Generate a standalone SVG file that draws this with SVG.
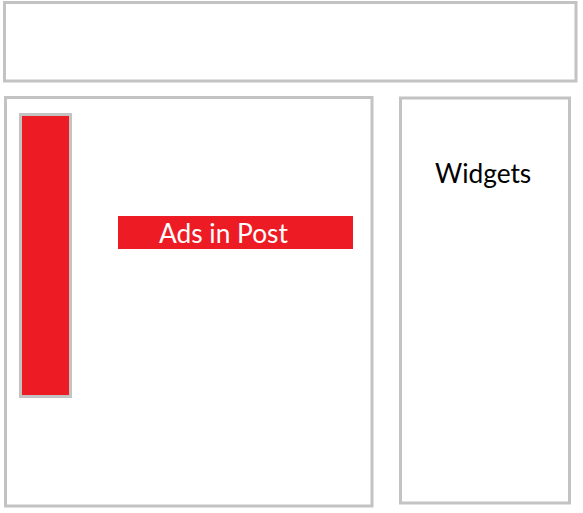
<svg xmlns="http://www.w3.org/2000/svg" width="583" height="513" viewBox="0 0 583 513">
<style>
.box{fill:#fff;stroke:#c3c3c3;stroke-width:3}
.ad{fill:#ed1c24}
.lbl{font-family:Lato,"Open Sans","Liberation Sans",sans-serif;font-size:26.3px}
</style>
<rect width="583" height="513" fill="#fff"/>
<g id="header"><rect class="box" x="4.5" y="2.5" width="571.5" height="78.5"/></g>
<g id="content"><rect class="box" x="5.5" y="97.5" width="366.5" height="408.5"/></g>
<g id="sidebar-ad"><rect class="ad" x="20.5" y="114.5" width="50" height="282" stroke="#c3c3c3" stroke-width="3"/></g>
<g id="ads-in-post"><rect class="ad" x="118" y="216" width="235" height="33"/><text class="lbl" x="159" y="243" fill="#fff">Ads in Post</text></g>
<g id="widgets"><rect class="box" x="400.5" y="98" width="169" height="405"/><text class="lbl" x="435" y="183" fill="#000">Widgets</text></g>
<g id="connectors"/>
</svg>
